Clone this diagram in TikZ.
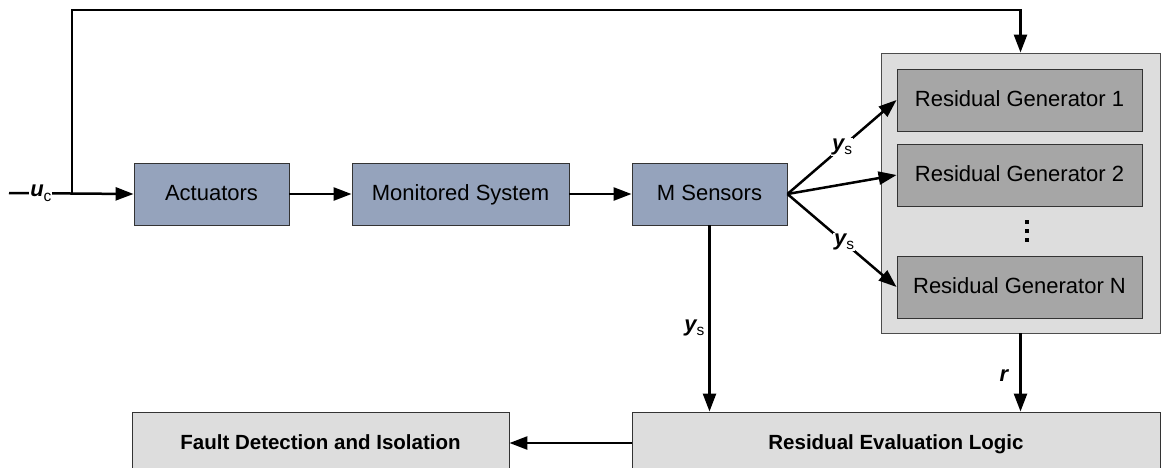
\documentclass[tikz,border=0pt]{standalone}
\usepackage{fontspec}
\setmainfont{Liberation Sans}
\usetikzlibrary{arrows.meta}

\definecolor{blockblue}{HTML}{95A3BC}
\definecolor{panelgray}{HTML}{DDDDDD}
\definecolor{gengray}{HTML}{A6A6A6}

\newcommand{\sig}[2]{{\bfseries\itshape #1}\raisebox{-0.35ex}{\fontsize{15.5}{18}\selectfont #2}}

\begin{document}
\begin{tikzpicture}[x=1pt,y=-1pt,
  box/.style={draw=black!80, line width=0.9pt, inner sep=0pt, minimum height=62pt,
    text height=16pt, text depth=4pt, font=\fontsize{22}{26}\selectfont},
  plant/.style={box, fill=blockblue},
  gen/.style={box, fill=gengray, minimum width=245pt},
  evalbox/.style={box, fill=panelgray, font=\fontsize{20.5}{25}\selectfont\bfseries},
  flow/.style={line width=2.5pt, -{Triangle[length=18pt,width=13pt]}},
  tag/.style={fill=white, inner sep=1pt, font=\fontsize{22}{26}\selectfont},
  sidetag/.style={inner sep=1pt, font=\fontsize{22}{26}\selectfont},
]
\clip (0,0) rectangle (1163,467);
\fill[white] (0,0) rectangle (1163,467);

% plant chain
\node[plant, minimum width=155pt] (act)  at (211.5,194) {Actuators};
\node[plant, minimum width=217pt] (sys)  at (460.5,194) {Monitored System};
\node[plant, minimum width=155pt] (sens) at (709.5,194) {M Sensors};

% residual generator bank
\node[draw=black!70, line width=0.9pt, fill=panelgray, minimum width=279pt,
      minimum height=280pt, inner sep=0pt] (bank) at (1020.5,193) {};
\node[gen] (rg1) at (1019.5,100) {Residual Generator 1};
\node[gen] (rg2) at (1019.5,175) {Residual Generator 2};
\node[gen] (rgn) at (1019.5,287) {Residual Generator N};
\foreach \yy in {222,231,240}
  \fill (1025.2,\yy-1.8) rectangle ++(3.6,3.6);

% evaluation and decision
\node[evalbox, minimum width=528pt] (rel) at (896,443) {Residual Evaluation Logic};
\node[evalbox, minimum width=377pt] (fdi) at (320.5,443) {Fault Detection and Isolation};

% input and feedforward of the command
\coordinate (uin) at (9,193);
\coordinate (split) at (72,193);
\coordinate (fbk) at (72,10);
\draw[flow] (uin) -- node[tag, pos=0.256] {\sig{u}{c}} (act.west);
\draw[flow] (split) -- (fbk) -| (bank.north);

\draw[flow] (act) -- (sys);
\draw[flow] (sys) -- (sens);

% sensor outputs to the generators
\draw[flow] (sens.east) -- node[tag, pos=0.5] {\sig{y}{s}} (rg1.west);
\draw[flow] (sens.east) -- (rg2.west);
\draw[flow] (sens.east) -- node[tag, pos=0.52] {\sig{y}{s}} (rgn.west);

% measurements and residuals to the evaluation logic
\draw[flow] (sens.south) -- node[sidetag, left=3pt, pos=0.55] {\sig{y}{s}} (sens.south |- rel.north);
\draw[flow] (bank.south) -- node[sidetag, left=10pt, pos=0.56] {\sig{r}{}} (bank.south |- rel.north);

\draw[flow] (rel.west) -- (fdi.east);
\end{tikzpicture}
\end{document}
